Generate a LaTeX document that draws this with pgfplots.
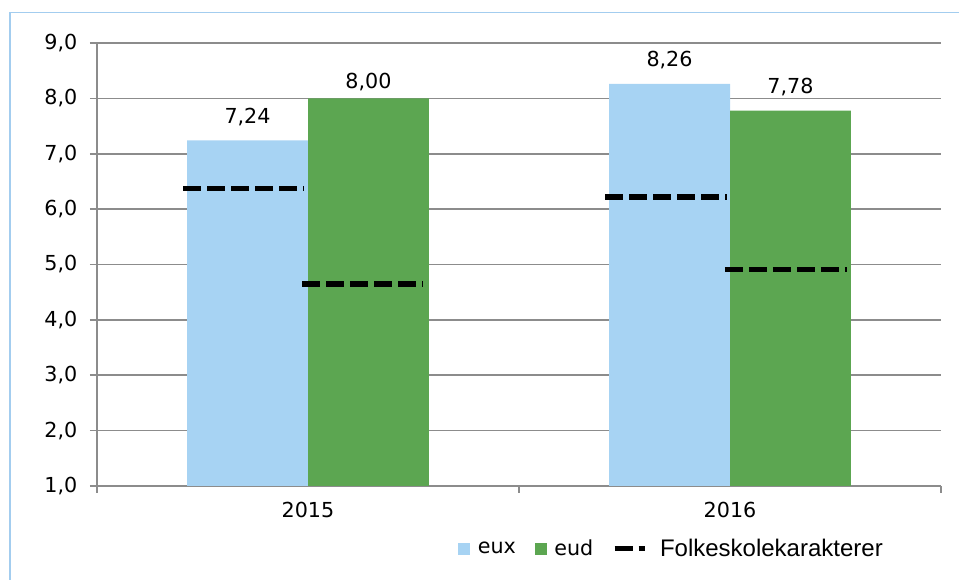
\documentclass[border=0pt]{standalone}
\usepackage{pgfplots}
\pgfplotsset{compat=1.18}
\usepackage{fontspec}
\setmainfont{DejaVu Sans}
\newfontfamily\lsans{Liberation Sans}
\definecolor{euxc}{HTML}{A7D3F3}
\definecolor{eudc}{HTML}{5CA651}
\definecolor{gridc}{HTML}{8C8C8C}
\definecolor{framec}{HTML}{A3CDEF}
\newcommand{\lblfont}{\fontsize{15.5pt}{18pt}\selectfont}
\begin{document}
\begin{tikzpicture}[x=1pt,y=1pt]
\useasboundingbox (0,0) rectangle (719.25,435);
\draw[framec, line width=1pt] (7.5,0) -- (7.5,425.5) -- (719.25,425.5);
\begin{axis}[
  at={(72.75pt,70.5pt)}, anchor=south west,
  scale only axis, width=633pt, height=332.25pt,
  xmin=-0.5, xmax=1.5, ymin=1, ymax=9,
  axis x line=bottom, axis y line=left,
  axis line style={-, draw=gridc, line width=1.2pt},
  ytick={1,2,...,9}, ymajorgrids,
  grid style={draw=gridc, line width=1.2pt},
  xtick={-0.5,0.5,1.5},
  xticklabels={\rule{0pt}{15pt}2015,\rule{0pt}{15pt}2016}, x tick label as interval,
  tick align=outside, major tick length=5.25pt,
  tick style={draw=gridc, line width=1.2pt},
  /pgf/number format/assume math mode=true,
  /pgf/number format/fixed, /pgf/number format/fixed zerofill,
  /pgf/number format/precision=1, /pgf/number format/use comma,
  yticklabel={\pgfmathprintnumber{\tick}\hspace*{6pt}},
  tick label style={font=\lblfont},
  legend columns=-1,
  legend style={draw=none, fill=none, at={(0.4277,-0.113)}, anchor=north west,
    font=\lblfont, inner sep=0pt,
    /tikz/every odd column/.style={column sep=3.75pt},
    /tikz/every even column/.style={column sep=12pt}},
]
\addplot[ybar, bar width=0.2867, bar shift=0pt, fill=euxc, draw=none,
  point meta=explicit symbolic, nodes near coords,
  nodes near coords style={anchor=base, yshift=12.75pt, font=\lblfont, text=black},
  legend image code/.code={\fill[euxc] (0pt,-4.5pt) rectangle (9pt,4.5pt);}]
  coordinates {(-0.14335,7.24) [7,24] (0.85665,8.26) [8,26]};
\addlegendentry{eux}
\addplot[ybar, bar width=0.2867, bar shift=0pt, fill=eudc, draw=none,
  point meta=explicit symbolic, nodes near coords,
  nodes near coords style={anchor=base, yshift=12.75pt, font=\lblfont, text=black},
  legend image code/.code={\fill[eudc] (0pt,-4.5pt) rectangle (9pt,4.5pt);}]
  coordinates {(0.14335,8.00) [\raisebox{-5.25pt}{8,00}] (1.14335,7.78) [7,78]};
\addlegendentry{eud\hspace{12.4pt}}
\addplot[black, line width=4.1pt, dash pattern=on 13.5pt off 4.5pt, unbounded coords=jump,
  legend image code/.code={\draw[black, line width=4.1pt, dash pattern=on 14pt off 4pt] (0pt,0pt) -- (22.5pt,0pt);}]
  coordinates {(-0.296,6.37) (-0.009,6.37) (0,nan) (-0.014,4.65) (0.2725,4.65) (0,nan)
               (0.704,6.22) (0.993,6.22) (1,nan) (0.988,4.91) (1.277,4.91)};
\addlegendentry{\hspace{3.75pt}\lsans\fontsize{18pt}{20pt}\selectfont Folkeskolekarakterer}
\end{axis}
\end{tikzpicture}
\end{document}
